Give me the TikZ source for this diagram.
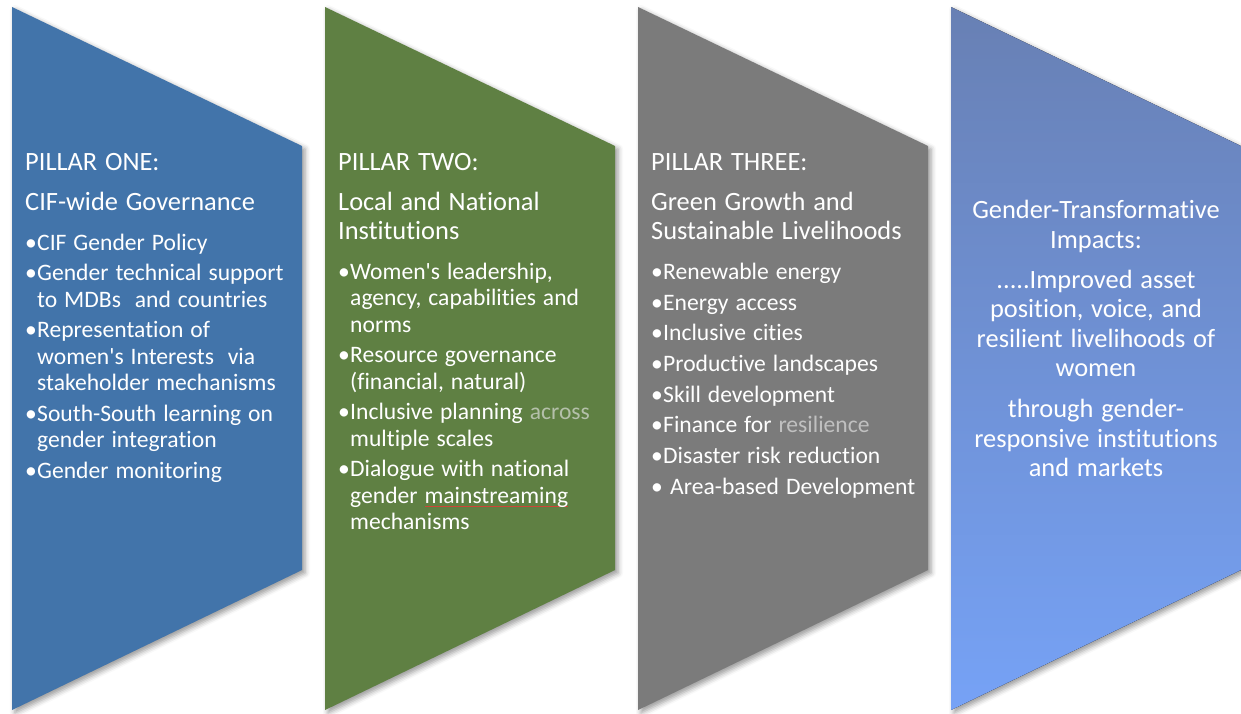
\documentclass[tikz,border=0pt]{standalone}
\usepackage{fontspec}
\setmainfont{Carlito}[WordSpace=1.3, Ligatures=NoCommon]
\usepackage{tikz}
\usetikzlibrary{positioning, shadows.blur}
\usepackage{xcolor}

\definecolor{pillarblue}{RGB}{66,116,170}
\definecolor{pillargreen}{RGB}{95,128,67}
\definecolor{pillargray}{RGB}{123,123,123}
\definecolor{impacttop}{RGB}{104,128,180}
\definecolor{impactbot}{RGB}{118,162,246}
\definecolor{fadedgreen}{RGB}{180,192,170}
\definecolor{fadedgray}{RGB}{192,192,192}
\definecolor{spellred}{RGB}{205,70,55}

% heading lines and bullet items inside a pillar
\newcommand{\hd}[2][0pt]{\vspace{#1}\fontsize{26.4}{29.5}\selectfont\noindent #2\par}
\newcommand{\itm}[2][4.4pt]{\vspace{#1}\fontsize{23.6}{26.3}\selectfont
  \hangindent=12pt\hangafter=1\noindent\makebox[12pt][l]{•}#2\par}
% thin red line under a word
\newcommand{\squig}[1]{\leavevmode\setbox0=\hbox{#1}%
  \rlap{\color{spellred}\vrule width \wd0 height -3pt depth 4pt}\box0}

\begin{document}
\begin{tikzpicture}[x=1pt, y=-1pt,
    pillar/.style={blur shadow={shadow xshift=3pt, shadow yshift=-3pt, shadow blur radius=5pt, shadow opacity=40}},
    pillartext/.style={anchor=north west, inner sep=0pt, text width=290pt, align=flush left, text=white},
    impacttext/.style={anchor=north, inner sep=0pt, text width=285pt, align=flush center, text=white,
        font=\fontsize{26.4}{29.5}\selectfont}
]
    \useasboundingbox (0,0) rectangle (1241,713);

    % the four pentagon arrows
    \foreach \x/\col in {12/pillarblue, 325/pillargreen, 638/pillargray}
        \fill[pillar, \col] (\x,7) -- ++(290,139) -- ++(0,424) -- (\x,710) -- cycle;
    \fill[pillar, top color=impacttop, bottom color=impactbot]
        (951,7) -- ++(290,139) -- ++(0,424) -- (951,710) -- cycle;

    \node[pillartext] (one) at (25,153) {%
        \hd{PILLAR ONE:}
        \hd[10.5pt]{CIF-wide Governance}
        \itm[13.5pt]{CIF Gender Policy}
        \itm{Gender technical support\newline to MDBs~ and countries}
        \itm{Representation of\newline women\textquotesingle s Interests~ via\newline stakeholder mechanisms}
        \itm{South-South learning on\newline gender integration}
        \itm{Gender monitoring}};

    \node[pillartext] (two) at (338,153) {%
        \hd{PILLAR TWO:}
        \hd[10.5pt]{Local and National\\Institutions}
        \itm[13.5pt]{Women\textquotesingle s leadership,\newline agency, capabilities and\newline norms}
        \itm{Resource governance\newline (financial, natural)}
        \itm{Inclusive planning {\color{fadedgreen}across}\newline multiple scales}
        \itm{Dialogue with national\newline gender \squig{mainstreaming}\newline mechanisms}};

    \node[pillartext] (three) at (651,153) {%
        \hd{PILLAR THREE:}
        \hd[10.5pt]{Green Growth and\\Sustainable Livelihoods}
        \itm[13.5pt]{Renewable energy}
        \itm{Energy access}
        \itm{Inclusive cities}
        \itm{Productive landscapes}
        \itm{Skill development}
        \itm{Finance for {\color{fadedgray}resilience}}
        \itm{Disaster risk reduction}
        \itm{\ Area-based Development}};

    \node[impacttext] (impact) at (1096,200) {%
        Gender-Transformative\\Impacts:\par
        \vspace{10.5pt}.....Improved asset\\position, voice, and\\resilient livelihoods of\\women\par
        \vspace{11.5pt}through gender-\\responsive institutions\\and markets};
\end{tikzpicture}
\end{document}
